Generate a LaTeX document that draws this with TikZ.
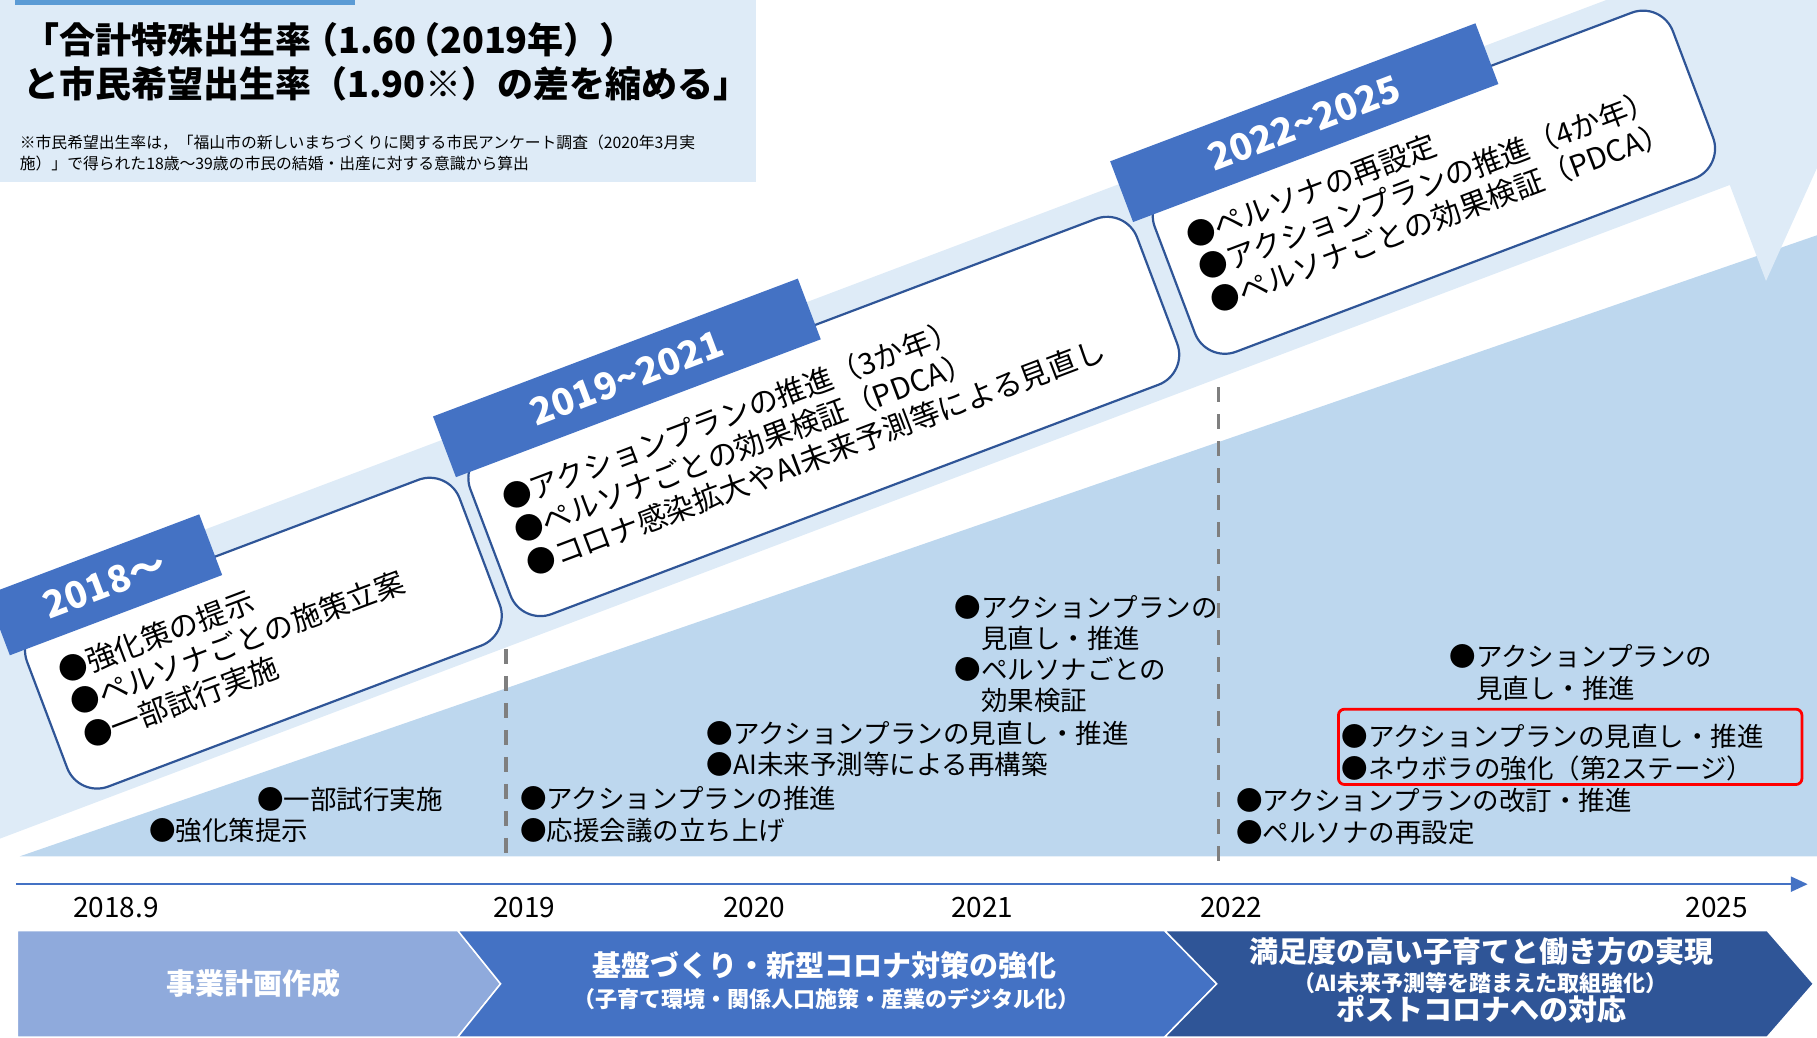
\documentclass[tikz,border=0pt]{standalone}
\usepackage{fontspec}
\setmainfont{Noto Sans CJK JP}
\usetikzlibrary{arrows.meta}

\definecolor{bandlight}{HTML}{DEEBF7}
\definecolor{banddark}{HTML}{BDD7EE}
\definecolor{stripblue}{HTML}{5B9BD5}
\definecolor{labelblue}{HTML}{4472C4}
\definecolor{boxline}{HTML}{2F5597}
\definecolor{phaseone}{HTML}{8FAADC}
\definecolor{phasetwo}{HTML}{4472C4}
\definecolor{phasethree}{HTML}{2F5597}
\definecolor{dashgray}{HTML}{7F7F7F}

\tikzset{
	periodbox/.style={draw=boxline, line width=2.2pt, fill=white, rounded corners=32pt,
		minimum height=177.3pt, inner xsep=26.6pt, inner ysep=0pt, align=left,
		font=\fontsize{29.5}{35}\selectfont},
	periodlabel/.style={fill=labelblue, text=white, minimum height=64.9pt, inner sep=0pt,
		font=\bfseries\fontsize{37}{40}\selectfont},
	planitem/.style={anchor=west, inner sep=0pt, align=left, font=\fontsize{26.5}{31.3}\selectfont},
	yeartext/.style={inner sep=0pt, font=\fontsize{28}{30}\selectfont},
	phaseshape/.style={draw=white, line width=1.5pt},
	phasetext/.style={text=white, inner sep=0pt, font=\bfseries\fontsize{29}{32}\selectfont},
	phasesub/.style={text=white, inner sep=0pt, font=\bfseries\fontsize{22}{25}\selectfont},
	divider/.style={dashgray, line width=3.4pt, dash pattern=on 15pt off 12pt},
	timeaxis/.style={labelblue, line width=2.5pt, -{Triangle[length=17pt, width=15pt]}},
	highlight/.style={draw=red, line width=2.8pt, rounded corners=6pt, minimum width=463.5pt, minimum height=75.3pt}
}

\begin{document}
\begin{tikzpicture}[x=1.1588pt, y=-1.1588pt]
	\useasboundingbox (0,0) rectangle (1568,895);
	\clip (0,0) rectangle (1568,895);
	%Header
		\fill[bandlight] (0,0) rectangle (652,157);
		\fill[stripblue] (13,0) rectangle (306,4);
		\node[anchor=west, inner sep=0pt, align=left, font=\bfseries\fontsize{36}{44}\selectfont] (goal) at (20,53)
			{「合計特殊出生率\kern-.25em（1.60\kern-.35em（2019年））\\と市民希望出生率（1.90※）の差を縮める」};
		\node[anchor=west, inner sep=0pt, align=left, font=\fontsize{15.8}{20.9}\selectfont] (note) at (17,132)
			{※市民希望出生率は，「福山市の新しいまちづくりに関する市民アンケート調査（2020年3月実\\施）」で得られた18歳～39歳の市民の結婚・出産に対する意識から算出};
	%Background
		\fill[banddark] (17,739) -- (1568,203) -- (1568,739) -- cycle;
	\begin{scope}[rotate=20.7, transform shape]
		%rising arrow
			\fill[bandlight] (-400,490) -- (1340,490) -- (1340,401.5) -- (1522,583.5)
				-- (1340,765.5) -- (1340,677) -- (-400,677) -- cycle;
		%period boxes
			\node[periodbox, text width=409.2pt] (box2018) at (19.5,591.5)
				{●強化策の提示\\●ペルソナごとの施策立案\\●一部試行実施};
			\node[periodbox, text width=659.5pt] (box2019) at (538,587.5)
				{●アクションプランの推進（3か年）\\●ペルソナごとの効果検証（PDCA）\\●コロナ感染拡大やAI未来予測等による見直し};
			\node[periodbox, text width=500.7pt] (box2022) at (1102,584.5)
				{●ペルソナの再設定\\●アクションプランの推進（4か年）\\●ペルソナごとの効果検証（PDCA）};
		%period labels
			\node[periodlabel, minimum width=227pt] (label2018) at (-94,504) {2018～};
			\node[periodlabel, minimum width=390pt] (label2019) at (390.8,496.3) {2019\textasciitilde 2021};
			\node[periodlabel, minimum width=390.5pt] (label2022) at (1015.5,496.9) {2022\textasciitilde 2025};
	\end{scope}
	%Dividers
		\coordinate (cut2019top) at (436.5,560);
		\coordinate (cut2019bot) at (436.5,746);
		\coordinate (cut2022top) at (1051.5,334);
		\coordinate (cut2022bot) at (1051.5,752);
		\draw[divider] (cut2019top) -- (cut2019bot);
		\draw[divider] (cut2022top) -- (cut2022bot);
	%Plan items
		\node[planitem] (item2018a) at (128.7,717) {●強化策提示};
		\node[planitem] (item2018b) at (221.7,690) {●一部試行実施};
		\node[planitem] (item2019) at (448.7,703) {●アクションプランの推進\\●応援会議の立ち上げ};
		\node[planitem] (item2020) at (609.7,646.5) {●アクションプランの見直し・推進\\●AI未来予測等による再構築};
		\node[planitem] (item2021) at (823.7,564.5) {●アクションプランの\\　見直し・推進\\●ペルソナごとの\\　効果検証};
		\node[planitem] (item2022) at (1066.7,704.5) {●アクションプランの改訂・推進\\●ペルソナの再設定};
		\node[planitem] (item2025a) at (1250.7,580.5) {●アクションプランの\\　見直し・推進};
		\node[highlight] (neuvola) at (1355,644.5) {};
		\node[planitem] (item2025b) at (1157.7,649.5) {●アクションプランの見直し・推進\\●ネウボラの強化（第2ステージ）};
	%Time axis
		\coordinate (axisstart) at (14,763);
		\coordinate (axisend) at (1560,763);
		\draw[timeaxis] (axisstart) -- (axisend);
		\node[yeartext] (y2018) at (100,783) {2018.9};
		\node[yeartext] (y2019) at (452.5,783) {2019};
		\node[yeartext] (y2020) at (651,783) {2020};
		\node[yeartext] (y2021) at (847.5,783) {2021};
		\node[yeartext] (y2022) at (1062.5,783) {2022};
		\node[yeartext] (y2025) at (1481.5,783) {2025};
	%Phases
		\path[phaseshape, fill=phaseone] (15,803) -- (395,803) -- (432,849) -- (395,895) -- (15,895) -- cycle;
		\path[phaseshape, fill=phasetwo] (395,803) -- (1005,803) -- (1050,849) -- (1005,895) -- (395,895) -- (432,849) -- cycle;
		\path[phaseshape, fill=phasethree] (1005,803) -- (1525,803) -- (1565,849) -- (1525,895) -- (1005,895) -- (1050,849) -- cycle;
		\node[phasetext] (phase1) at (219,849) {事業計画作成};
		\node[phasetext] (phase2) at (711.5,832.8) {基盤づくり・新型コロナ対策の強化};
		\node[phasesub] (phase2sub) at (713,862) {（子育て環境・関係人口施策・産業のデジタル化）};
		\node[phasetext] (phase3) at (1278.5,821) {満足度の高い子育てと働き方の実現};
		\node[phasesub] (phase3sub) at (1277.5,848.6) {（AI未来予測等を踏まえた取組強化）};
		\node[phasetext] (phase3post) at (1278.5,871) {ポストコロナへの対応};
\end{tikzpicture}
\end{document}
